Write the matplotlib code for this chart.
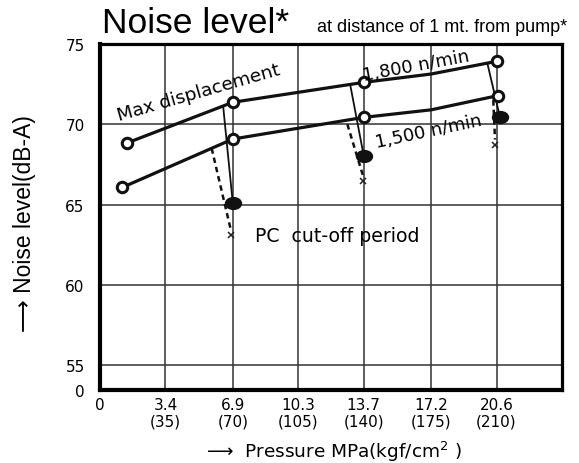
import matplotlib
matplotlib.use("Agg")
import matplotlib.pyplot as plt
from matplotlib.path import Path
from matplotlib.transforms import Affine2D

# valores (pressao em MPa, ruido em dB-A)
x_ticks = [3.4, 6.9, 10.3, 13.7, 17.2, 20.6]
x_labels = ["3.4\n(35)", "6.9\n(70)", "10.3\n(105)", "13.7\n(140)", "17.2\n(175)", "20.6\n(210)"]
y_ticks = [55, 60, 65, 70, 75]

# linha de cima - 1,800 n/min (deslocamento maximo)
x_1800 = [1.39, 6.9, 13.7, 17.2, 20.6]
y_1800 = [68.83, 71.37, 72.61, 73.13, 73.92]
# linha de baixo - 1,500 n/min
x_1500 = [1.16, 6.9, 13.7, 17.2, 20.65]
y_1500 = [66.07, 69.08, 70.43, 70.9, 71.78]
# pontos com circulo (sem o ponto da dobra em 17.2)
idx_circ = [0, 1, 2, 4]

# periodo de corte PC
x_corte = [6.9, 13.7, 20.78]
y_corte = [65.07, 68.04, 70.43]
x_xis = [6.79, 13.65, 20.52]
y_xis = [63.1, 66.48, 68.7]
# inicio das linhas finas (na linha de 1,800) e tracejadas (na de 1,500)
x_ini_solida = [6.4, 13.0, 20.12]
y_ini_solida = [71.1, 72.45, 73.81]
x_ini_tracej = [5.8, 12.85, 20.43]
y_ini_tracej = [68.5, 70.0, 71.5]
y_fim_tracej = [63.45, 66.85, 69.05]

fig = plt.figure(figsize=(5.79, 4.64), dpi=100)
ax = fig.add_axes([100 / 579, 1 - 391 / 464, 462 / 579, 346 / 464])

y_base = 53.45  # eixo quebrado: o "0" fica no fundo
ax.set_xlim(0, 24.0)
ax.set_ylim(y_base, 75)

ax.set_xticks([0] + x_ticks)
ax.set_xticklabels(["0"] + x_labels, fontsize=11, family="DejaVu Sans", linespacing=1.1)
ax.set_yticks([y_base] + y_ticks)
ax.set_yticklabels(["0"] + [str(v) for v in y_ticks], fontsize=11, family="DejaVu Sans")
ax.tick_params(axis="x", length=0, pad=5)
ax.tick_params(axis="y", length=0, pad=11)
ax.grid(True, color="#333333", linewidth=1.1)
ax.set_axisbelow(True)
for lado in ["left", "bottom"]:
    ax.spines[lado].set_linewidth(3)
for lado in ["top", "right"]:
    ax.spines[lado].set_linewidth(2.3)

# linhas finas e tracejadas
for i in range(3):
    ax.plot([x_ini_solida[i], x_corte[i]], [y_ini_solida[i], y_corte[i]], color="#111111", lw=1.3, zorder=3)
    ax.plot([x_ini_tracej[i], x_xis[i]], [y_ini_tracej[i], y_fim_tracej[i]], color="#111111", lw=1.8,
            linestyle=(0, (2.2, 1.6)), zorder=3)

# linhas principais
ax.plot(x_1800, y_1800, color="#111111", lw=2.3, zorder=4)
ax.plot(x_1500, y_1500, color="#111111", lw=2.3, zorder=4)
ax.plot([x_1800[i] for i in idx_circ], [y_1800[i] for i in idx_circ], "o", ms=7.5,
        mfc="white", mec="#111111", mew=2.2, zorder=5, linestyle="none")
ax.plot([x_1500[i] for i in idx_circ], [y_1500[i] for i in idx_circ], "o", ms=7.5,
        mfc="white", mec="#111111", mew=2.2, zorder=5, linestyle="none")

# elipses cheias
elipse = Path.unit_circle().transformed(Affine2D().scale(1.35, 1.0))
ax.plot(x_corte, y_corte, marker=elipse, ms=11.5, color="#111111", linestyle="none", zorder=6)
ax.plot(x_xis, y_xis, marker="x", ms=5, mew=1.1, color="#222222", linestyle="none", zorder=6)

ax.text(5.14, 72.0, "Max displacement", fontsize=13.3, family="DejaVu Sans", rotation=16,
        ha="center", va="center", rotation_mode="anchor", zorder=7)
ax.text(16.42, 73.7, "1,800 n/min", fontsize=13, family="DejaVu Sans", rotation=10.5,
        ha="center", va="center", rotation_mode="anchor", zorder=7)
ax.text(17.09, 69.6, "1,500 n/min", fontsize=13, family="DejaVu Sans", rotation=12,
        ha="center", va="center", rotation_mode="anchor", zorder=7)
ax.text(12.34, 63.1, "PC  cut-off period", fontsize=13.6, family="DejaVu Sans",
        ha="center", va="center", zorder=7)

# titulo e rotulos dos eixos
fig.text(102 / 579, 1 - 33 / 464, "Noise level*", fontsize=25.5, family="Liberation Sans", va="baseline")
fig.text(317 / 579, 1 - 32 / 464, "at distance of 1 mt. from pump*", fontsize=13,
         family="Liberation Sans", va="baseline")
fig.text(25 / 579, 1 - 224 / 464, "\u27f6 Noise level(dB-A)", fontsize=16.5, rotation=90,
         family=["Liberation Sans", "DejaVu Sans"], ha="center", va="center")
fig.text(334 / 579, 1 - 452 / 464, "\u27f6  Pressure MPa(kgf/cm$^{2}$ )", fontsize=13.3,
         family="DejaVu Sans", ha="center", va="center")

fig.savefig("out.png", dpi=100)
